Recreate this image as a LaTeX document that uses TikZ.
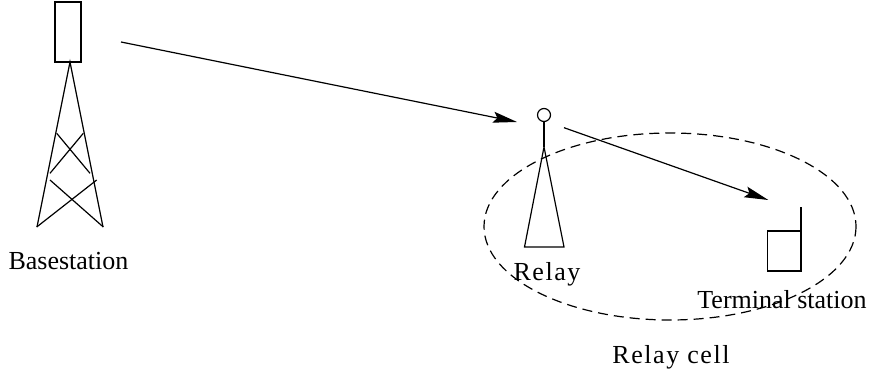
\documentclass[tikz,border=0pt]{standalone}
\usepackage{fontspec}
\setmainfont{Liberation Serif}
\usetikzlibrary{arrows.meta}

\begin{document}
\begin{tikzpicture}[
    x=0.5pt, y=-0.5pt,
    line/.style={line width=0.6pt, black},
    arrow/.style={line, -{Stealth[length=12pt, width=5.5pt, inset=2pt]}},
    cell/.style={line, dash pattern=on 5pt off 3pt},
    label/.style={anchor=base, inner sep=0pt, font=\fontsize{13}{15}\selectfont},
    widelabel/.style={label, font=\fontsize{13}{15}\selectfont\addfontfeatures{LetterSpace=6}}
]
\useasboundingbox (0,0) rectangle (870,373);

% Basestation
\draw[line] (55,2) rectangle (81,62);
\draw[line] (37,227) -- (70,62) -- (103,227);
\draw[line] (56.7,133.3) -- (90,173.3);
\draw[line] (83.3,133.3) -- (50,173.3);
\draw[line] (50,180) -- (103.3,227);
\draw[line] (96.7,180) -- (36.7,227);
\node[label] (basestation_label) at (68.5,270) {Basestation};

% Relay
\node[line, draw, circle, minimum size=6.5pt, inner sep=0pt] (relay_ant) at (544,115) {};
\coordinate (relay_top) at (544,147);
\draw[line] (relay_ant.south) -- (relay_top);
\draw[line] (relay_top) -- (524.5,247) -- (564,247) -- cycle;
\node[widelabel] (relay_label) at (547,280) {Relay};

% Terminal station
\draw[line] (767.5,231) rectangle (801,271);
\draw[line] (801,231) -- (801,207.5);
\node[label] (terminal_label) at (782,308) {Terminal station};

% Relay cell
\draw[cell] (670,226.5) ellipse [x radius=186, y radius=93.5];
\node[widelabel] (cell_label) at (671,363) {Relay cell};

% Links
\coordinate (bs_tx) at (121,42);
\coordinate (relay_rx) at (517,122);
\coordinate (relay_tx) at (564,127.7);
\coordinate (terminal_rx) at (768.3,200);
\draw[arrow] (bs_tx) -- (relay_rx);
\draw[arrow] (relay_tx) -- (terminal_rx);

\end{tikzpicture}
\end{document}
